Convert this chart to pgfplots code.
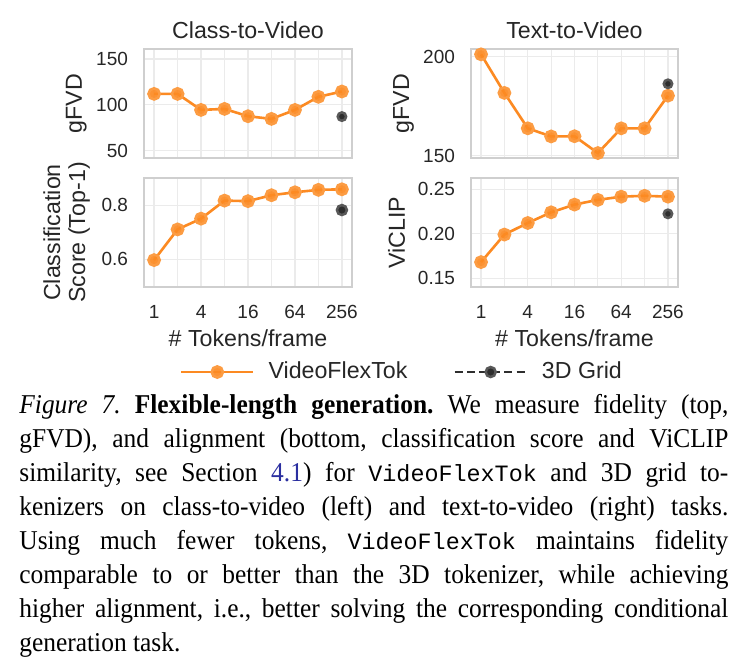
\documentclass[border=0pt]{standalone}
\usepackage{fontspec}
\setmainfont{Liberation Serif}[FakeStretch=0.935]
\setmonofont{Liberation Mono}[Scale=0.86]
\newfontfamily\chartfont{Liberation Sans}
\usepackage{pgfplots}
\pgfplotsset{compat=1.18}
\definecolor{vfo}{HTML}{FC8A22}
\definecolor{gridpt}{HTML}{2E2E2E}
\definecolor{framegray}{HTML}{CFCFCF}
\definecolor{gridline}{HTML}{EBEBEB}
\definecolor{txt}{HTML}{262626}
\definecolor{linkblue}{HTML}{2B2FA0}

\pgfplotsset{
  every axis title shift=0pt,
  panel/.style={
    scale only axis, width=104pt, height=54.5pt,
    xmin=-0.43, xmax=8.43,
    xtick={0,2,4,6,8}, xticklabels={1,4,16,64,256},
    minor xtick={1,3,5,7},
    grid=both,
    major grid style={gridline, line width=0.6pt},
    minor grid style={gridline, line width=0.6pt},
    axis line style={framegray, line width=1pt},
    axis background/.style={fill=white},
    major tick length=0pt, minor tick length=0pt,
    tick style={draw=none},
    tick label style={font=\chartfont\fontsize{9.5}{11}\selectfont, text=txt},
    xticklabel style={yshift=-5.5pt},
    yticklabel style={xshift=-4.5pt},
    label style={font=\chartfont\fontsize{11.6}{12.6}\selectfont, text=txt},
    title style={font=\chartfont\fontsize{11.6}{13}\selectfont, text=txt,
      at={(axis description cs:0.5,1.174)}, anchor=center},
    /pgf/number format/assume math mode=true,
    clip=false,
  },
  vft/.style={color=vfo, line width=1.3pt, mark=*, mark size=2.8pt,
    mark options={fill=vfo, draw=vfo!85!white, fill opacity=0.92}},
  grd/.style={color=gridpt, line width=1.25pt, dash pattern=on 4pt off 2.2pt,
    mark=*, mark size=2.1pt, mark options={solid, fill=gridpt, draw=gridpt!80!white}},
}

\begin{document}
\begin{tikzpicture}
\useasboundingbox (0,0) rectangle (370pt,-329.5pt);

% top-left: Class-to-Video gFVD
\begin{axis}[panel, at={(72pt,-24.5pt)}, anchor=north west,
  title={Class-to-Video},
  ymin=42, ymax=161, ytick={50,100,150},
  xticklabels={},
  ylabel={gFVD},
  ylabel style={at={(axis description cs:-0.325,0.5)}, anchor=center},
]
\addplot[vft] coordinates {(0,112) (1,112) (2,94.5) (3,95.6) (4,87.6) (5,84.7) (6,94.5) (7,108.8) (8,114.6)};
\addplot[grd] coordinates {(8,87.2)};
\end{axis}

% bottom-left: classification score
\begin{axis}[panel, at={(72pt,-89pt)}, anchor=north west,
  ymin=0.497, ymax=0.902, ytick={0.6,0.8},
  yticklabel style={/pgf/number format/.cd, fixed, precision=1},
  ylabel={Classification\\Score (Top-1)},
  ylabel style={at={(axis description cs:-0.372,0.5)}, anchor=center, align=center},
  xlabel={\# Tokens/frame},
  xlabel style={at={(axis description cs:0.5,-0.473)}, anchor=center},
  legend columns=2,
  legend style={at={(axis description cs:0.173,-0.78)}, anchor=west,
    draw=none, fill=none, inner sep=0pt, outer sep=0pt,
    font=\chartfont\fontsize{11.6}{13}\selectfont, text=txt,
    /tikz/every odd column/.append style={column sep=7pt},
    /tikz/every even column/.append style={column sep=23pt},
    nodes={inner sep=0pt, anchor=west}},
  legend cell align=left,
  legend image code/.code={
    \draw[mark repeat=2, mark phase=2, #1] plot coordinates {(0pt,0pt) (18pt,0pt) (36pt,0pt)};},
]
\addplot[vft] coordinates {(0,0.597) (1,0.711) (2,0.751) (3,0.818) (4,0.816) (5,0.838) (6,0.849) (7,0.858) (8,0.860)};
\addlegendentry{VideoFlexTok}
\addplot[grd, mark size=2.5pt] coordinates {(8,0.783)};
\addlegendentry{3D Grid}
\end{axis}

% top-right: Text-to-Video gFVD
\begin{axis}[panel, at={(235.5pt,-24.5pt)}, anchor=north west, width=103.5pt,
  title={Text-to-Video},
  ymin=148.8, ymax=203.9, ytick={150,200},
  xticklabels={},
  ylabel={gFVD},
  ylabel style={at={(axis description cs:-0.326,0.5)}, anchor=center},
]
\addplot[vft] coordinates {(0,201.2) (1,181.7) (2,163.8) (3,159.7) (4,159.8) (5,151.3) (6,163.8) (7,163.8) (8,180.3)};
\addplot[grd] coordinates {(8,186.3)};
\end{axis}

% bottom-right: ViCLIP
\begin{axis}[panel, at={(235.5pt,-89pt)}, anchor=north west, width=103.5pt,
  ymin=0.14, ymax=0.2626, ytick={0.15,0.20,0.25},
  yticklabel style={/pgf/number format/.cd, fixed, fixed zerofill, precision=2},
  ylabel={ViCLIP},
  ylabel style={at={(axis description cs:-0.36,0.5)}, anchor=center},
  xlabel={\# Tokens/frame},
  xlabel style={at={(axis description cs:0.5,-0.473)}, anchor=center},
]
\addplot[vft] coordinates {(0,0.168) (1,0.199) (2,0.212) (3,0.224) (4,0.2327) (5,0.238) (6,0.2416) (7,0.2426) (8,0.2416)};
\addplot[grd] coordinates {(8,0.2223)};
\end{axis}

% caption
\node[anchor=base west, inner sep=0pt] at (9.5pt,-206.5pt) {\parbox[t]{354.5pt}{%
\fontsize{13.6}{17}\selectfont\frenchspacing\hyphenpenalty=10000\emergencystretch=20pt
\textit{Figure 7.} \textbf{Flexible-length generation.} We measure fidelity (top,\linebreak
gFVD), and alignment (bottom, classification score and ViCLIP\linebreak
similarity, see Section \textcolor{linkblue}{4.1}) for \texttt{VideoFlexTok} and 3D grid to-\linebreak
kenizers on class-to-video (left) and text-to-video (right) tasks.\linebreak
Using much fewer tokens, \texttt{VideoFlexTok} maintains fidelity\linebreak
comparable to or better than the 3D tokenizer, while achieving\linebreak
higher alignment, i.e., better solving the corresponding conditional\linebreak
generation task.}};
\end{tikzpicture}
\end{document}
